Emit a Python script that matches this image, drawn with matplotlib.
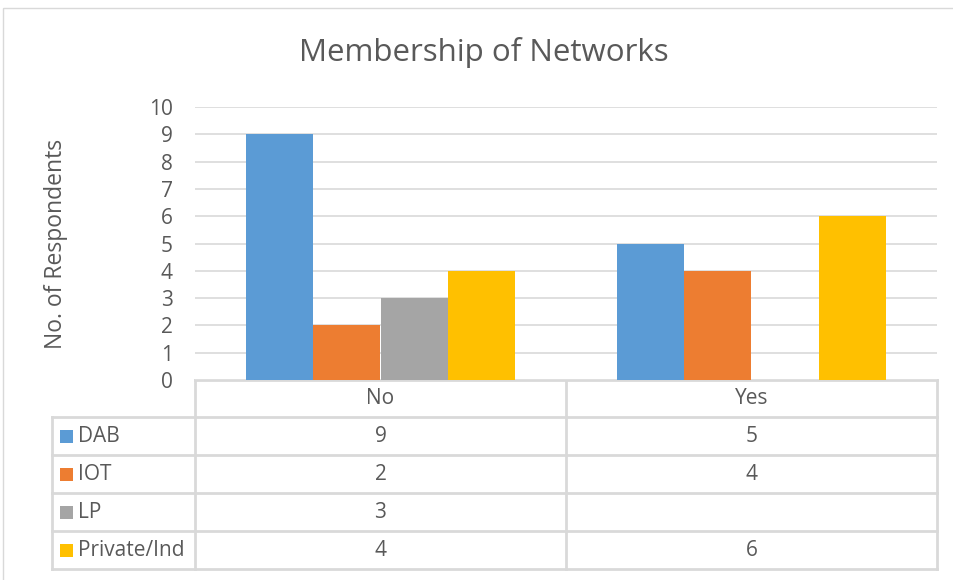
import matplotlib
matplotlib.use("Agg")
import matplotlib.pyplot as plt
from matplotlib.patches import Rectangle
from matplotlib.lines import Line2D

# Data
categories = ["No", "Yes"]
series_names = ["DAB", "IOT", "LP", "Private/Ind"]
series_values = {
    "DAB": [9, 5],
    "IOT": [2, 4],
    "LP": [3, None],
    "Private/Ind": [4, 6],
}
colors = ["#5B9BD5", "#ED7D31", "#A5A5A5", "#FFC000"]
yticks = list(range(0, 11))

W, H = 954, 580
TEXT = "#595959"
GRID = "#D9D9D9"
FONT = ["Open Sans", "DejaVu Sans"]
plt.rcParams["font.family"] = FONT

fig = plt.figure(figsize=(W / 100, H / 100), dpi=100)


def fbox(x0, y0, x1, y1):
    """Pixel box (top-left origin) -> figure fraction [left, bottom, w, h]."""
    return [x0 / W, 1 - y1 / H, (x1 - x0) / W, (y1 - y0) / H]


# Chart frame
frame = fig.add_axes([0, 0, 1, 1])
frame.set_xlim(0, W)
frame.set_ylim(H, 0)
frame.axis("off")
frame.add_patch(Rectangle((3, 8), W + 10, H, fill=False, edgecolor=GRID, lw=1.0))

# Plot area
px0, px1, py0, py1 = 195, 937, 107, 380
ax = fig.add_axes(fbox(px0, py0, px1, py1))
ax.set_xlim(0, len(categories))
ax.set_ylim(0, 10)
n = len(series_names)
bw = 1 / (n + 1.5)
for i, name in enumerate(series_names):
    xs, hs = [], []
    for j, v in enumerate(series_values[name]):
        if v is None:
            continue
        xs.append(j + 0.5 + (i - (n - 1) / 2) * bw)
        hs.append(v)
    ax.bar(xs, hs, width=bw, color=colors[i], zorder=3, linewidth=0)
ax.set_yticks(yticks)
ax.set_yticklabels([str(t) for t in yticks], fontsize=15, color=TEXT)
ax.tick_params(axis="y", length=0, pad=16)
ax.set_xticks([])
ax.grid(axis="y", color=GRID, lw=1.2, zorder=0)
for s in ax.spines.values():
    s.set_visible(False)

fig.text(56 / W, 1 - 244 / H, "No. of Respondents", rotation=90, ha="center", va="center",
         fontsize=16.5, color=TEXT)

fig.text(484 / W, 1 - 52 / H, "Membership of Networks", ha="center", va="center",
         fontsize=22.5, color=TEXT)

# Data table below the plot area
tx0, tx1 = 52, 937
col_edges = [px0, (px0 + px1) / 2, px1]
row_edges = [380, 417, 455, 493, 531, 569]
lc = GRID
lw = 2.0
# header row lines (no left label cell)
frame.add_line(Line2D([px0, px1], [row_edges[0], row_edges[0]], color=lc, lw=lw))
for y in row_edges[1:]:
    frame.add_line(Line2D([tx0, tx1], [y, y], color=lc, lw=lw))
frame.add_line(Line2D([tx0, tx0], [row_edges[1], row_edges[-1]], color=lc, lw=lw))
for x in col_edges:
    frame.add_line(Line2D([x, x], [row_edges[0], row_edges[-1]], color=lc, lw=lw))

for j, cat in enumerate(categories):
    cx = (col_edges[j] + col_edges[j + 1]) / 2
    frame.text(cx, (row_edges[0] + row_edges[1]) / 2, cat, ha="center", va="center",
               fontsize=15, color=TEXT)

for i, name in enumerate(series_names):
    cy = (row_edges[i + 1] + row_edges[i + 2]) / 2
    frame.add_patch(Rectangle((60, cy - 6.5), 13, 13, color=colors[i], lw=0))
    frame.text(78, cy, name, ha="left", va="center", fontsize=15, color=TEXT)
    for j, v in enumerate(series_values[name]):
        if v is None:
            continue
        cx = (col_edges[j] + col_edges[j + 1]) / 2
        frame.text(cx, cy, str(v), ha="center", va="center", fontsize=15, color=TEXT)

fig.savefig("out.png", dpi=100)
